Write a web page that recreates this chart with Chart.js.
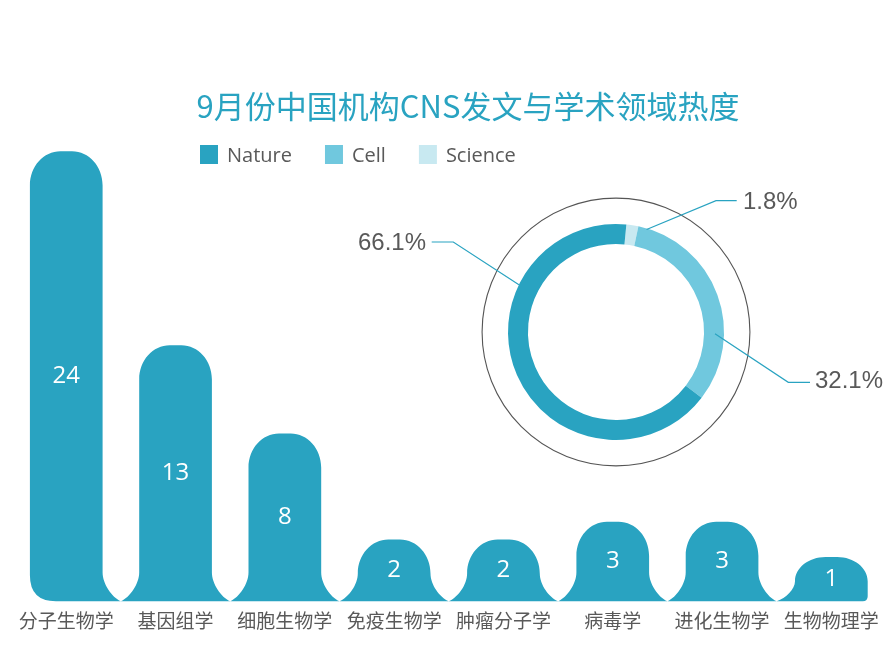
<!DOCTYPE html>
<html>
<head>
<meta charset="utf-8">
<title>9月份中国机构CNS发文与学术领域热度</title>
<script src="https://cdn.jsdelivr.net/npm/chart.js@4.4.0/dist/chart.umd.min.js"></script>
<style>
html, body { margin: 0; padding: 0; background: #fff; }
#wrap { position: relative; width: 896px; height: 662px; }
.layer { position: absolute; left: 0; top: 0; width: 896px; height: 662px; }
#pieLayer { pointer-events: none; }
</style>
</head>
<body>
<div id="wrap">
  <div class="layer"><canvas id="bars"></canvas></div>
  <div class="layer" id="pieLayer"><canvas id="pie"></canvas></div>
</div>
<script>
// data
var titleText = '9月份中国机构CNS发文与学术领域热度';
var fields = ['分子生物学', '基因组学', '细胞生物学', '免疫生物学', '肿瘤分子学', '病毒学', '进化生物学', '生物物理学'];
var papers = [24, 13, 8, 2, 2, 3, 3, 1];
var journals = ['Nature', 'Cell', 'Science'];
var shares = [66.1, 32.1, 1.8];

var journalColors = ['#29a3c1', '#70c8de', '#c8e9f1'];
var textGray = '#595959';
var yMin = -1.5;

// bars drawn as "bells": rounded top, flared foot meeting the neighbour
var bellBars = {
  id: 'bellBars',
  beforeDatasetDraw: function(chart, args) {
    var ctx = chart.ctx;
    var els = args.meta.data;
    var n = els.length;
    var k = 0.5523;
    ctx.save();
    ctx.fillStyle = journalColors[0];
    for (var i = 0; i < n; i++) {
      var p = els[i].getProps(['x', 'y', 'base', 'width'], true);
      var hw = p.width / 2;
      var xl = p.x - hw, xr = p.x + hw;
      var top = p.y, b = p.base, h = b - top;
      var rx = hw * 0.84, ry = Math.min(34, h * 0.55);
      var fh = Math.min(29, h * 0.45);
      var gl = 0, gr = 0;
      if (i > 0) {
        var pp = els[i - 1].getProps(['x', 'width'], true);
        gl = (xl - (pp.x + pp.width / 2)) / 2;
      }
      if (i < n - 1) {
        var np = els[i + 1].getProps(['x', 'width'], true);
        gr = ((np.x - np.width / 2) - xr) / 2;
      }
      ctx.beginPath();
      if (gl > 0) {
        ctx.moveTo(xl - gl, b);
        ctx.bezierCurveTo(xl - gl * 0.5, b - fh * 0.14, xl, b - fh * 0.6, xl, b - fh);
      } else {
        var cr = 26;
        ctx.moveTo(xl + cr, b);
        ctx.quadraticCurveTo(xl, b, xl, b - cr);
      }
      ctx.lineTo(xl, top + ry);
      ctx.bezierCurveTo(xl, top + ry * (1 - k), xl + rx * (1 - k), top, xl + rx, top);
      ctx.lineTo(xr - rx, top);
      ctx.bezierCurveTo(xr - rx * (1 - k), top, xr, top + ry * (1 - k), xr, top + ry);
      if (gr > 0) {
        ctx.lineTo(xr, b - fh);
        ctx.bezierCurveTo(xr, b - fh * 0.6, xr + gr * 0.5, b - fh * 0.14, xr + gr, b);
      } else {
        ctx.lineTo(xr, b - 5);
        ctx.quadraticCurveTo(xr, b, xr - 5, b);
      }
      ctx.closePath();
      ctx.fill();
    }
    // counts inside the bars
    ctx.fillStyle = '#fff';
    ctx.font = '24px "Open Sans"';
    ctx.textAlign = 'center';
    ctx.textBaseline = 'middle';
    var vals = chart.data.datasets[args.index].data;
    for (var j = 0; j < n; j++) {
      var q = els[j].getProps(['x', 'y', 'base'], true);
      ctx.fillText(String(vals[j]), q.x, (q.y + q.base) / 2);
    }
    ctx.restore();
    return false;
  }
};

// title and legend
var header = {
  id: 'header',
  afterDraw: function(chart) {
    var ctx = chart.ctx;
    ctx.save();
    ctx.fillStyle = journalColors[0];
    ctx.font = '31px "Noto Sans CJK SC"';
    ctx.textAlign = 'center';
    ctx.textBaseline = 'middle';
    ctx.fillText(titleText, 468, 106);

    ctx.font = '20px "Open Sans"';
    ctx.textAlign = 'left';
    var x = 200;
    for (var i = 0; i < journals.length; i++) {
      ctx.fillStyle = journalColors[i];
      ctx.fillRect(x, 145, 18, 19);
      ctx.fillStyle = textGray;
      ctx.fillText(journals[i], x + 27, 156);
      x += 27 + ctx.measureText(journals[i]).width + 33;
    }
    ctx.restore();
  }
};

// outer thin ring, leader lines and percentages
var ringExtras = {
  id: 'ringExtras',
  afterDraw: function(chart, args, opts) {
    var ctx = chart.ctx;
    var arc = chart.getDatasetMeta(0).data[0];
    var cx = arc.x, cy = arc.y, R = arc.outerRadius, r0 = arc.innerRadius;
    ctx.save();
    ctx.strokeStyle = '#555';
    ctx.lineWidth = 1.1;
    ctx.beginPath();
    ctx.arc(cx, cy, R * 1.24, 0, Math.PI * 2);
    ctx.stroke();

    ctx.font = '24px "Liberation Sans"';
    ctx.textBaseline = 'middle';
    for (var i = 0; i < journals.length; i++) {
      var L = opts.leaders[i];
      var t = L.angle * Math.PI / 180;
      var rr = r0 + (R - r0) * L.depth;
      ctx.strokeStyle = journalColors[0];
      ctx.lineWidth = 1.2;
      ctx.beginPath();
      ctx.moveTo(cx + rr * Math.sin(t), cy - rr * Math.cos(t));
      ctx.lineTo(cx + L.elbow[0], cy + L.elbow[1]);
      ctx.lineTo(cx + L.end[0], cy + L.end[1]);
      ctx.stroke();
      ctx.fillStyle = textGray;
      ctx.textAlign = L.end[0] < 0 ? 'right' : 'left';
      ctx.fillText(shares[i].toFixed(1) + '%', cx + L.text[0], cy + L.text[1]);
    }
    ctx.restore();
  }
};

new Chart(document.getElementById('bars'), {
  type: 'bar',
  data: {
    labels: fields,
    datasets: [{
      data: papers,
      base: yMin,
      backgroundColor: journalColors[0],
      barPercentage: 0.665,
      categoryPercentage: 1
    }]
  },
  options: {
    responsive: true,
    maintainAspectRatio: false,
    animation: false,
    events: [],
    layout: { padding: { left: 11.6, right: 10, top: 140, bottom: 22 } },
    scales: {
      x: {
        grid: { display: false, drawTicks: false },
        border: { display: false },
        ticks: {
          color: textGray,
          font: { family: '"Noto Sans CJK SC"', size: 19 },
          padding: 8,
          maxRotation: 0,
          autoSkip: false
        }
      },
      y: { display: false, min: yMin, max: 24.64 }
    },
    plugins: {
      legend: { display: false },
      tooltip: { enabled: false }
    }
  },
  plugins: [bellBars, header]
});

new Chart(document.getElementById('pie'), {
  type: 'doughnut',
  data: {
    labels: journals.slice().reverse(),
    datasets: [{
      data: shares.slice().reverse(),
      backgroundColor: journalColors.slice().reverse(),
      borderWidth: 0
    }]
  },
  options: {
    responsive: true,
    maintainAspectRatio: false,
    animation: false,
    events: [],
    rotation: 5.5,
    cutout: '81.5%',
    layout: { padding: { left: 508, top: 224, right: 172, bottom: 222 } },
    plugins: {
      legend: { display: false },
      tooltip: { enabled: false },
      ringExtras: {
        leaders: [
          { angle: 296, depth: 1, elbow: [-162.7, -90], end: [-184.3, -90], text: [-190, -89] },
          { angle: 91, depth: 0.55, elbow: [172.3, 50.3], end: [194, 50.3], text: [199, 49.5] },
          { angle: 16.6, depth: 0.95, elbow: [100, -131.3], end: [120.7, -131.3], text: [127, -130] }
        ]
      }
    }
  },
  plugins: [ringExtras]
});
</script>
</body>
</html>
